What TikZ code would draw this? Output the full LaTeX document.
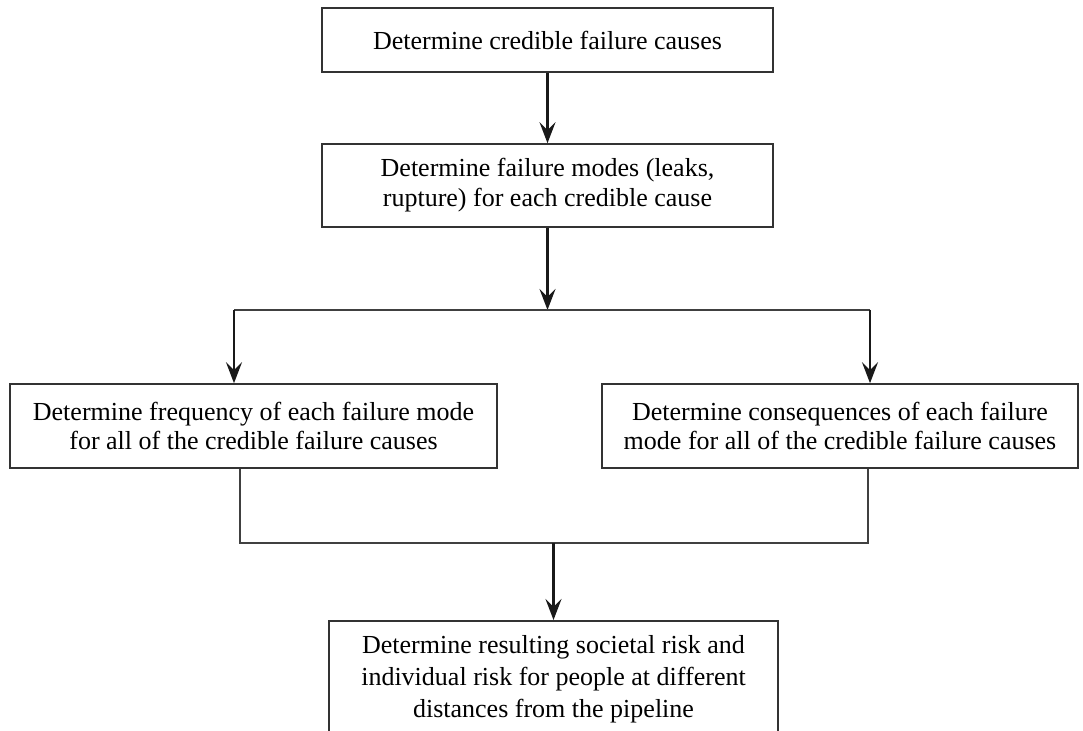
\documentclass[tikz,border=0pt]{standalone}
\usepackage{fontspec}
\setmainfont{Liberation Serif}
\usepackage{tikz}
\usetikzlibrary{arrows.meta}

\tikzset{
  stepbox/.style={draw=black!80, line width=0.9pt, align=center, inner sep=2pt,
    font=\fontsize{14.8}{17}\selectfont},
  flow/.style={->, line width=1.2pt, black!90},
  link/.style={line width=0.8pt, black!75},
}

\begin{document}
\begin{tikzpicture}[>={Stealth[length=4.2mm, width=3.2mm, inset=1.6mm]}]

    % page frame (bottom box runs off the page)
    \clip (0,0) rectangle (21.66,-14.62);

    % steps
    \node[stepbox, minimum width=9.02cm, minimum height=1.28cm] (cause) at (10.95,-0.80)
    {Determine credible failure causes};
    \node[stepbox, minimum width=9.02cm, minimum height=1.66cm] (modes) at (10.95,-3.71)
    {Determine failure modes (leaks,\\ rupture) for each credible cause};
    \node[stepbox, minimum width=9.74cm, minimum height=1.68cm] (freq) at (5.07,-8.52)
    {Determine frequency of each failure mode\\ for all of the credible failure causes};
    \node[stepbox, minimum width=9.52cm, minimum height=1.68cm] (conseq) at (16.80,-8.52)
    {Determine consequences of each failure\\ mode for all of the credible failure causes};
    \node[stepbox, minimum width=8.98cm, inner ysep=8.5pt, text depth=3cm, anchor=north,
      font=\fontsize{14.8}{18}\selectfont] (risk) at (11.07,-12.40)
    {Determine resulting societal risk and\\ individual risk for people at different\\ distances from the pipeline};

    % split and join points
    \coordinate (split) at (10.95,-6.20);
    \coordinate (splitL) at (4.68,-6.20);
    \coordinate (splitR) at (17.40,-6.20);
    \coordinate (joinL) at (4.80,-10.86);
    \coordinate (joinR) at (17.36,-10.86);
    \coordinate (join) at (11.07,-10.86);

    % connectors
    \draw[flow] (cause) -- (modes);
    \draw[flow] (modes) -- (split);
    \draw[link] (splitL) -- (splitR);
    \draw[flow] (splitL) -- (splitL |- freq.north);
    \draw[flow] (splitR) -- (splitR |- conseq.north);
    \draw[link] (joinL |- freq.south) -- (joinL) -- (joinR) -- (joinR |- conseq.south);
    \draw[flow] (join) -- (risk.north);
\end{tikzpicture}
\end{document}
